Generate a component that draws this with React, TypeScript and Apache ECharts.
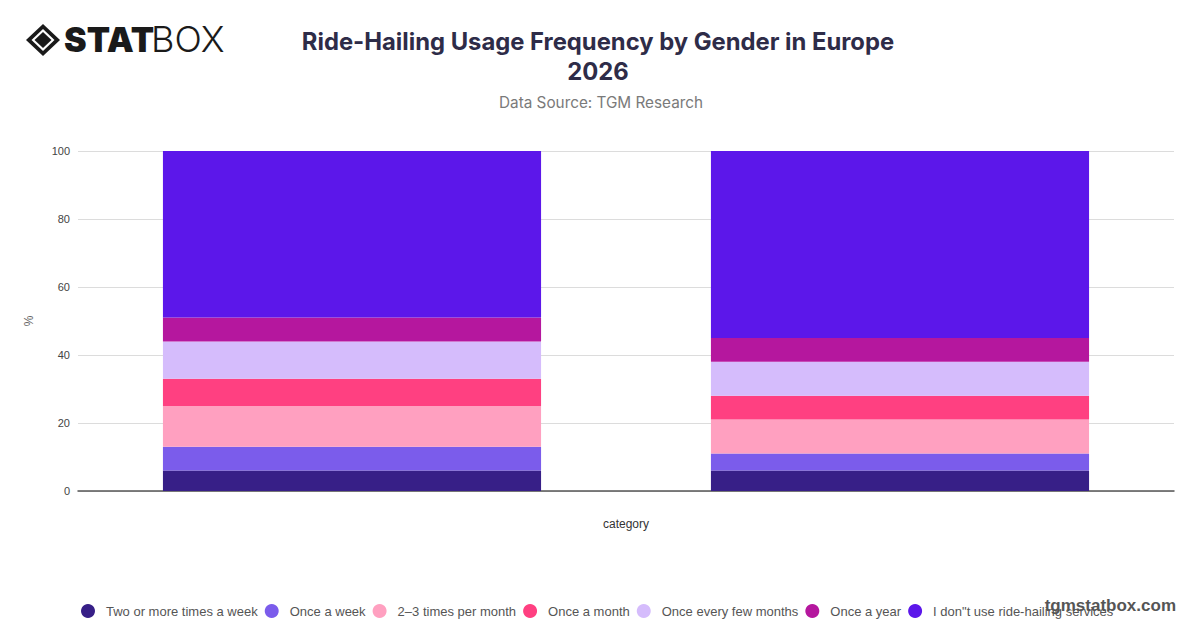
import React, { useEffect, useRef } from "react";
import * as echarts from "echarts";

const categories = ["Male", "Female"];
const seriesNames = [
  "Two or more times a week",
  "Once a week",
  "2–3 times per month",
  "Once a month",
  "Once every few months",
  "Once a year",
  'I don"t use ride-hailing services',
];
const twoOrMore = [6, 6];
const onceWeek = [7, 5];
const twoThreeMonth = [12, 10];
const onceMonth = [8, 7];
const fewMonths = [11, 10];
const onceYear = [7, 7];
const dontUse = [49, 55];
const seriesValues = [twoOrMore, onceWeek, twoThreeMonth, onceMonth, fewMonths, onceYear, dontUse];
const colors = ["#371F87", "#7B5CEB", "#FFA0C0", "#FF4081", "#D5BCFC", "#B5179E", "#5C17EA"];
const yTicks = { min: 0, max: 100, interval: 20 };

export default function App() {
  const ref = useRef<HTMLDivElement>(null);
  useEffect(() => {
    document.body.style.margin = "0";
    const chart = echarts.init(ref.current!, null, { renderer: "svg" });
    chart.setOption({
      animation: false,
      backgroundColor: "#fff",
      color: colors,
      title: [
        {
          text: "Ride-Hailing Usage Frequency by Gender in Europe\n2026",
          left: 593,
          textAlign: "center",
          top: 21,
          textStyle: {
            fontFamily: "Inter",
            fontWeight: "bold",
            fontSize: 23.8,
            lineHeight: 30,
            color: "#2E2C48",
          },
        },
        {
          text: "Data Source: TGM Research",
          left: 596,
          textAlign: "center",
          top: 90,
          textStyle: { fontFamily: "Inter", fontWeight: "normal", fontSize: 15.3, color: "#7a7a7a" },
        },
      ],
      legend: {
        bottom: 5,
        left: 76,
        icon: "circle",
        itemWidth: 14,
        itemHeight: 14,
        itemGap: 7,
        textStyle: {
          fontFamily: "Liberation Sans, Arial, sans-serif",
          fontSize: 13,
          color: "#555",
          padding: [0, 0, 0, 6],
        },
        data: seriesNames,
      },
      grid: { left: 78, right: 26, top: 151, bottom: 137, containLabel: false },
      xAxis: {
        type: "category",
        data: categories,
        name: "category",
        nameLocation: "middle",
        nameGap: 27,
        nameTextStyle: { fontFamily: "Liberation Sans, Arial, sans-serif", fontSize: 12, color: "#333" },
        axisLabel: { show: false },
        axisTick: { show: false },
        axisLine: { lineStyle: { color: "#555", width: 1.5 } },
      },
      yAxis: {
        type: "value",
        min: yTicks.min,
        max: yTicks.max,
        interval: yTicks.interval,
        name: "%",
        nameLocation: "middle",
        nameGap: 43,
        nameTextStyle: { fontFamily: "Liberation Sans, Arial, sans-serif", fontSize: 12, color: "#666" },
        axisLabel: { fontFamily: "Liberation Sans, Arial, sans-serif", fontSize: 11, color: "#444", margin: 8 },
        splitLine: { lineStyle: { color: "#dcdcdc" } },
        axisLine: { show: false },
        axisTick: { show: false },
      },
      series: seriesNames.map((name, i) => ({
        name,
        type: "bar",
        stack: "total",
        barWidth: "69%",
        data: seriesValues[i],
        itemStyle: { color: colors[i] },
      })),
      graphic: [
        {
          type: "polygon",
          shape: { points: [[43, 24], [60, 40], [43, 56], [26, 40]] },
          style: { fill: "#1a1a1a" },
        },
        {
          type: "polygon",
          shape: { points: [[43, 29], [54.5, 40], [43, 51], [31.5, 40]] },
          style: { fill: "#fff" },
        },
        {
          type: "polygon",
          shape: { points: [[43, 32], [51.5, 40], [43, 48], [34.5, 40]] },
          style: { fill: "#1a1a1a" },
        },
        {
          type: "text",
          left: 64,
          top: 22,
          style: {
            text: "STAT",
            fontFamily: "Inter",
            fontWeight: 900,
            fontSize: 34,
            fill: "#1a1a1a",
          },
        },
        {
          type: "text",
          left: 151,
          top: 21,
          style: {
            text: "BOX",
            fontFamily: "Inter",
            fontWeight: 300,
            fontSize: 36,
            fill: "#1a1a1a",
          },
        },
        {
          type: "text",
          right: 24,
          top: 597,
          style: {
            text: "tgmstatbox.com",
            fontFamily: "Liberation Sans, Arial, sans-serif",
            fontWeight: "bold",
            fontSize: 17,
            fill: "#555",
          },
        },
      ],
    });
    return () => chart.dispose();
  }, []);
  return <div ref={ref} style={{ width: 1200, height: 628 }} />;
}
